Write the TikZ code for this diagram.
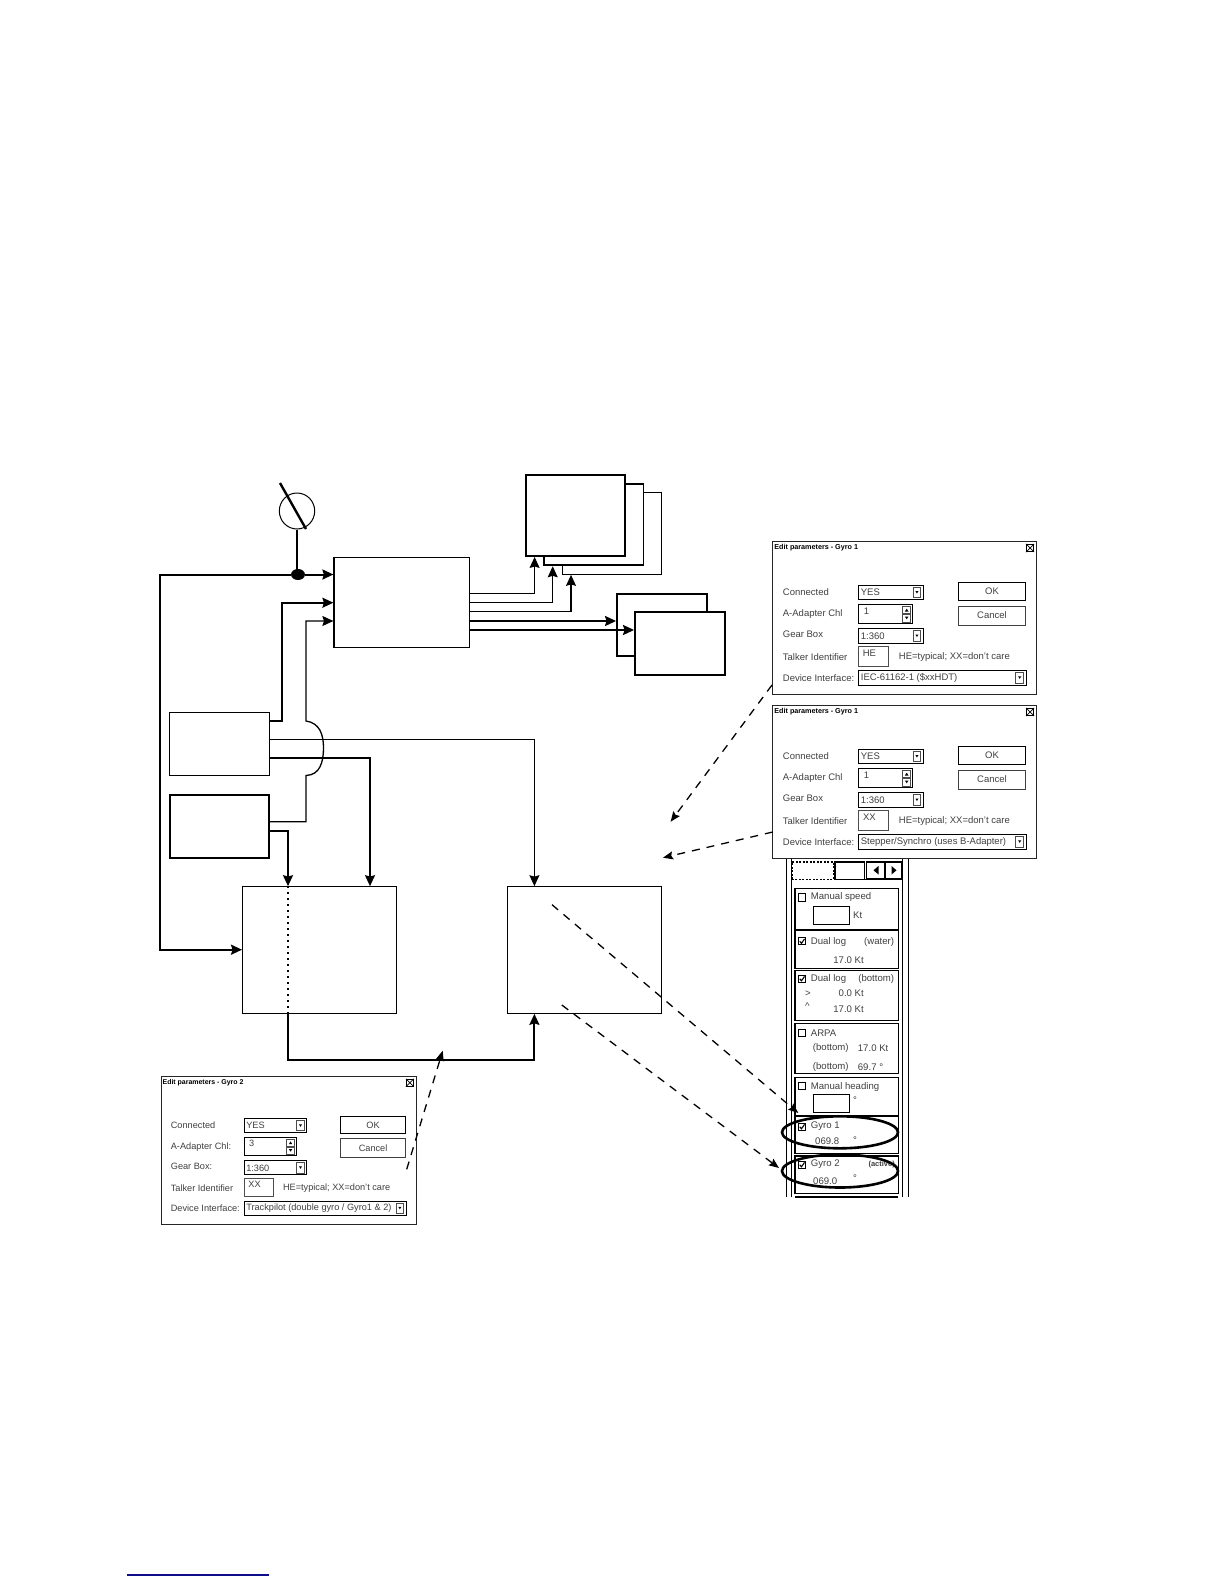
\documentclass[tikz,border=0pt]{standalone}
\usepackage{fontspec}
\setmainfont{Liberation Sans}
\usetikzlibrary{arrows.meta,shapes.geometric}
\definecolor{linkblue}{rgb}{0.05,0.05,0.55}

\tikzset{
  block/.style={draw=black,line width=1.1pt,fill=white,inner sep=0pt},
  heavyblock/.style={block,line width=1.9pt},
  thinwire/.style={draw=black,line width=1pt},
  heavywire/.style={draw=black,line width=2pt},
  tip/.style={-{Stealth[length=11pt,width=10pt,inset=1.5pt]}},
  dashwire/.style={draw=black,line width=1.3pt,dash pattern=on 8pt off 7pt,-{Stealth[length=10pt,width=8pt,inset=1.5pt,sep=0pt]}},
  dlgtext/.style={font=\fontsize{9.5}{11}\selectfont,text=black!75,inner sep=0pt,anchor=west},
  dlgtitle/.style={font=\fontsize{7.2}{8}\bfseries\selectfont,inner sep=0pt,anchor=west},
  dlgbutton/.style={draw=black,font=\fontsize{9.5}{11}\selectfont,text=black!75,inner sep=0pt,minimum width=67.4pt},
  field/.style={draw=black!70,line width=.9pt,fill=white},
  sunken/.style={draw=black,line width=1pt,fill=white},
  group/.style={draw=black,line width=1.2pt,fill=white},
  paneltext/.style={font=\fontsize{9.6}{11}\selectfont,text=black!75,inner sep=0pt,anchor=west},
  panelright/.style={paneltext,anchor=east},
}

% x y scale prefix title chl talker device colon
\newcommand{\editdialog}[9]{
\begin{scope}[shift={(#1,#2)},scale=#3,every node/.append style={transform shape}]
\path[draw=black!85,line width=.9pt,fill=white] (0,0) rectangle (264,153);
\node[dlgtitle] (#4title) at (1.5,6.7) {#5};
\node[draw=black,line width=.7pt,minimum size=7.5pt,inner sep=0pt] (#4close) at (257.3,7) {};
\draw[line width=.7pt] (#4close.north west) -- (#4close.south east) (#4close.north east) -- (#4close.south west);
% labels
\node[dlgtext] (#4conn) at (10,51) {Connected};
\node[dlgtext] (#4chan) at (10,73.3) {A-Adapter Chl#9};
\node[dlgtext] (#4gear) at (10,93.7) {Gear Box#9};
\node[dlgtext] (#4talk) at (10,115.7) {Talker Identifier};
\node[dlgtext] (#4devi) at (10,136.7) {Device Interface:};
% fields
\path[sunken] (86,44) rectangle (150.6,58.3);
\node[dlgtext] (#4connval) at (88,51.5) {YES};
\path[field] (140.5,46) rectangle (148,56.3);
\fill (142.7,50) -- (145.8,50) -- (144.25,52.5) -- cycle;
\path[sunken] (86,63.7) rectangle (140,82.7);
\node[dlgtext] (#4chanval) at (91,70) {#6};
\path[field] (130,65.5) rectangle (138,72.5);
\path[field] (130,73.5) rectangle (138,81);
\fill (132.2,70.5) -- (135.8,70.5) -- (134,67.7) -- cycle;
\fill (132.2,75.5) -- (135.8,75.5) -- (134,78.3) -- cycle;
\path[sunken] (86,87.3) rectangle (150.6,102.3);
\node[dlgtext] (#4gearval) at (88,95.5) {1:360};
\path[field] (140.5,89.3) rectangle (148,100.3);
\fill (142.7,93.5) -- (145.8,93.5) -- (144.25,96) -- cycle;
\path[field] (86,105.7) rectangle (116,125);
\node[dlgtext,anchor=center] (#4talkval) at (96.7,112) {#7};
\node[dlgtext] (#4note) at (126,115.7) {HE=typical; XX=don't care};
\path[sunken] (86,129.3) rectangle (254,144);
\node[dlgtext] (#4devival) at (88,137) {#8};
\path[field] (243,131.3) rectangle (251,142);
\fill (245.4,135.3) -- (248.6,135.3) -- (247,137.8) -- cycle;
% buttons
\node[dlgbutton,line width=1.4pt,minimum height=18pt] (#4ok) at (219.3,50.7) {OK};
\node[dlgbutton,line width=.9pt,draw=black!75,minimum height=19pt] (#4cancel) at (219.3,74.5) {Cancel};
\end{scope}
}
\newcommand{\chkbox}[2]{\draw[line width=.9pt,fill=white] (#1,#2) rectangle ++(7.4,7.4);}
\newcommand{\chkmark}[2]{\draw[line width=1.1pt] (#1,#2) ++(1.4,3.8) -- ++(1.8,2) -- ++(3,-4.4);}

\begin{document}
\begin{tikzpicture}[x=1pt,y=-1pt]
\useasboundingbox (0,0) rectangle (1224,1584);
% stacked boxes:
\node[block,minimum width=99.5pt,minimum height=81.6pt] (repeaterc) at (611.8,533.5) {};
\node[heavyblock,minimum width=99.5pt,minimum height=81.3pt] (repeaterb) at (593.7,524.7) {};
\node[heavyblock,minimum width=99.7pt,minimum height=81pt] (repeatera) at (575.5,515.5) {};
\node[heavyblock,minimum width=90pt,minimum height=62pt] (unitb) at (662,625) {};
\node[heavyblock,minimum width=90pt,minimum height=63pt] (unita) at (680,643.5) {};
\node[block,minimum width=135.5pt,minimum height=90.4pt] (junction) at (401.7,602.5) {};
\node[block,minimum width=100pt,minimum height=62.6pt] (gyroone) at (219.2,744) {};
\node[heavyblock,minimum width=99.5pt,minimum height=62.7pt] (gyrotwo) at (219.3,826.4) {};
\node[block,minimum width=153.8pt,minimum height=126.6pt] (adapter) at (319.5,950) {};
\node[block,minimum width=153.8pt,minimum height=126.6pt] (radar) at (584.6,950) {};
% compass symbol:
\node[draw=black,line width=1pt,ellipse,minimum width=35.4pt,minimum height=36pt,inner sep=0pt] (compass) at (297,511) {};
\draw[line width=2.4pt] (280,483) -- (306,529);
\node[fill=black,ellipse,minimum width=14pt,minimum height=11pt,inner sep=0pt] (dot) at (298,574.5) {};
\draw[line width=1.2pt] (compass.south) -- (compass.south |- dot);
% inputs of the junction box:
\draw[heavywire,tip] (dot) -- (junction.west |- dot);
\draw[heavywire,tip] (dot) -- (160,574.5) |- (adapter.west |- 0,949.7);
\draw[thinwire,line width=1.6pt,tip] (gyroone.east |- 0,720.7) -| (281.7,602.7) -- (junction.west |- 0,602.7);
\draw[thinwire,line width=1.3pt,tip] (gyrotwo.east |- 0,821.7) -| (306,775.5) .. controls (320,775) and (323.5,762) .. (323.5,748) .. controls (323.5,735) and (320,723) .. (306,721) -- (306,621) -- (junction.west |- 0,621);
% outputs of the junction box:
\draw[thinwire,tip] (junction.east |- 0,593.3) -| (repeatera.south -| 534.6,0);
\draw[thinwire,tip] (junction.east |- 0,602.3) -| (repeaterb.south -| 552.7,0);
\draw[thinwire,line width=1.4pt,tip] (junction.east |- 0,611.3) -| (repeaterc.south -| 571,0);
\draw[heavywire,tip] (junction.east |- 0,621) -- (unitb.west |- 0,621);
\draw[heavywire,tip] (junction.east |- 0,630) -- (unita.west |- 0,630);
% gyro lines down:
\draw[thinwire,tip] (gyroone.east |- 0,739.3) -| (radar.north -| 534.4,0);
\draw[heavywire,tip] (gyroone.east |- 0,758) -| (adapter.north -| 370,0);
\draw[heavywire,tip] (gyrotwo.east |- 0,831) -| (adapter.north -| 288,0);
\draw[line width=1.6pt,dash pattern=on 1.6pt off 4.4pt] (adapter.north -| 288,0) -- (adapter.south -| 288,0);
\draw[heavywire,tip] (adapter.south -| 288,0) |- (534.4,1060) -- (radar.south -| 534.4,0);
% sensor panel:
\draw[line width=1pt] (786,850) -- (786,1197) (791,850) -- (791,1197);
\draw[line width=1pt] (902,850) -- (902,1197) (908,850) -- (908,1197);
\draw[line width=1.1pt,dash pattern=on 2pt off 1.5pt] (792,879.3) -- (792,862) -- (833.3,862) -- (833.3,879.3) -- cycle;
\draw[line width=1.1pt] (835,879.3) -- (835,862) -- (864.3,862) -- (864.3,879.3) -- cycle;
\draw[line width=1.1pt] (864.3,879.3) -- (902,879.3);
\node[draw=black,line width=1.1pt,minimum width=18.3pt,minimum height=16.7pt,inner sep=0pt] (tableft) at (875.8,870.3) {};
\node[draw=black,line width=1.1pt,minimum width=16pt,minimum height=16.7pt,inner sep=0pt] (tabright) at (893.7,870.3) {};
\fill (878.5,866) -- (878.5,874.5) -- (873.5,870.3) -- cycle;
\fill (891.5,866) -- (891.5,874.5) -- (896.5,870.3) -- cycle;
\path[group] (795,888.7) rectangle (898.3,929.3);
\path[group] (795,930.5) rectangle (898.3,968.3);
\path[group] (795,970.7) rectangle (898.3,1020.7);
\path[group] (795,1023.3) rectangle (898.3,1073.3);
\path[group] (795,1077.7) rectangle (898.3,1115.7);
\path[group] (795,1115.7) rectangle (898.3,1153.3);
\path[group] (795,1156) rectangle (898.3,1193.3);
\draw[line width=2pt] (795,1115.7) -- (898.3,1115.7);
\draw[line width=1.2pt] (795,1197) -- (898.3,1197);
% check boxes:
\chkbox{798.3}{893.7}
\chkbox{798.3}{937.5}\chkmark{798.3}{937.5}
\chkbox{798.3}{975}\chkmark{798.3}{975}
\chkbox{798.3}{1029.5}
\chkbox{798.3}{1082.5}
\chkbox{798.3}{1123}\chkmark{798.3}{1123}
\chkbox{798.3}{1161}\chkmark{798.3}{1161}
% panel texts:
\node[paneltext] (speedlab) at (810.7,897.5) {Manual speed};
\node[draw=black,line width=1pt,minimum width=36pt,minimum height=17.6pt,inner sep=0pt] (speedbox) at (831.3,915.5) {};
\node[paneltext] (speedunit) at (853,915.7) {Kt};
\node[paneltext] (logone) at (810.7,941.7) {Dual log};
\node[panelright] (logonetag) at (894.3,941.7) {(water)};
\node[panelright] (logoneval) at (864,960) {17.0 Kt};
\node[paneltext] (logtwo) at (810.7,979) {Dual log};
\node[panelright] (logtwotag) at (894.3,979) {(bottom)};
\node[paneltext] (logtwoa) at (805,993.3) {>};
\node[panelright] (logtwob) at (864,993.3) {0.0 Kt};
\node[paneltext] (logtwoc) at (805,1006) {\^{}};
\node[panelright] (logtwod) at (864,1009) {17.0 Kt};
\node[paneltext] (arpa) at (810.7,1033.3) {ARPA};
\node[paneltext] (arpaa) at (812.7,1048.3) {(bottom)};
\node[paneltext] (arpab) at (857.7,1048.3) {17.0 Kt};
\node[paneltext] (arpac) at (812.7,1066.7) {(bottom)};
\node[paneltext] (arpad) at (857.7,1066.7) {69.7 °};
\node[paneltext] (headlab) at (810.7,1087.3) {Manual heading};
\node[draw=black,line width=1pt,minimum width=36pt,minimum height=18pt,inner sep=0pt] (headbox) at (831.3,1103.3) {};
\node[paneltext] (headunit) at (853,1100) {°};
\node[paneltext] (gyrolabone) at (810.7,1126.3) {Gyro 1};
\node[paneltext] (gyrovalone) at (815,1141.5) {069.8};
\node[paneltext] (gyrounitone) at (853,1140.5) {°};
\node[paneltext] (gyrolabtwo) at (810.7,1164.3) {Gyro 2};
\node[panelright,font=\fontsize{7.5}{8}\bfseries\selectfont] (gyrotag) at (895,1164.3) {(active)};
\node[paneltext] (gyrovaltwo) at (813,1180.7) {069.0};
\node[paneltext] (gyrounittwo) at (853,1178) {°};
% rings round the gyro lines:
\draw[line width=2.6pt] (840,1132.3) ellipse (58 and 16);
\draw[line width=2.6pt] (840,1171) ellipse (58 and 16.5);
% dialogs:
\editdialog{772.7}{541}{1}{dlgone}{Edit parameters - Gyro 1}{1}{HE}{IEC-61162-1 (\$xxHDT)}{}
\editdialog{772.7}{705}{1}{dlgtwo}{Edit parameters - Gyro 1}{1}{XX}{Stepper/Synchro (uses B-Adapter)}{}
\editdialog{161}{1076}{.967}{dlgthree}{Edit parameters - Gyro 2}{3}{XX}{Trackpilot (double gyro / Gyro1 \& 2)}{:}
% dashed pointers:
\coordinate (dashone) at (772,685);
\coordinate (dashonetip) at (670.6,821.7);
\coordinate (dashtwo) at (772.7,832);
\coordinate (dashtwotip) at (663,857.7);
\coordinate (dashthree) at (406.7,1169.3);
\coordinate (dashthreetip) at (442.7,1050.7);
\coordinate (dashfour) at (552,904.7);
\coordinate (dashfourtip) at (798.3,1113);
\coordinate (dashfive) at (561.8,1005);
\coordinate (dashfivetip) at (779,1168);
\draw[dashwire] (dashone) -- (dashonetip);
\draw[dashwire] (dashtwo) -- (dashtwotip);
\draw[dashwire] (dashthree) -- (dashthreetip);
\draw[dashwire] (dashfour) -- (dashfourtip);
\draw[dashwire] (dashfive) -- (dashfivetip);
% rule at the foot:
\coordinate (ruleleft) at (127,1575);
\coordinate (ruleright) at (269,1575);
\draw[linkblue,line width=1.1pt] (ruleleft) -- (ruleright);
\end{tikzpicture}
\end{document}
